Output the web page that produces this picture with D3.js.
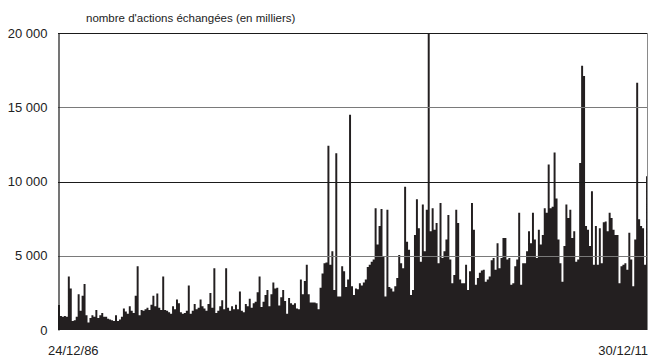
<!DOCTYPE html>
<html>
<head>
<meta charset="utf-8">
<script src="https://cdn.jsdelivr.net/npm/d3@7"></script>
<style>
  body { margin: 0; background: #fff; }
  svg { display: block; font-family: "Liberation Sans", Arial, sans-serif; }
</style>
</head>
<body>
<div id="chart"></div>
<script>
// monthly peak volume, thousands of shares, Jan 1987 -> Dec 2011
const volumes = [
  1690, 950, 900, 950, 900, 3600, 2800, 600, 650, 900,
  2400, 1300, 2300, 3100, 1000, 500, 800, 1000, 900, 1350,
  800, 1000, 1150, 900, 900, 750, 700, 650, 600, 1000,
  600, 700, 900, 1450, 1250, 1100, 1600, 1300, 1150, 2300,
  4300, 1000, 1350, 1300, 1400, 1500, 1350, 1700, 2300, 1600,
  2450, 1500, 1350, 3600, 1350, 1300, 1200, 1100, 1600, 1400,
  2050, 1800, 1200, 1100, 1150, 1300, 3000, 1100, 1300, 1750,
  1400, 1500, 2050, 1600, 1450, 1300, 1750, 2500, 1500, 4150,
  1150, 1300, 1600, 2000, 1400, 4150, 1500, 1300, 1600, 1400,
  1700, 1400, 2600, 1300, 1200, 1750, 1600, 2100, 1500, 1800,
  1900, 2550, 3600, 1550, 1900, 2350, 2700, 1600, 2400, 3200,
  2800, 2850, 1650, 2200, 2700, 1950, 1100, 2150, 1800, 1700,
  1800, 1450, 1400, 3400, 2400, 3300, 4400, 2400, 1850, 1850,
  1850, 1800, 1400, 2850, 3800, 4500, 4550, 12400, 4400, 5300,
  2700, 11900, 2250, 2250, 4300, 3950, 2900, 3400, 14500, 2950,
  2350, 2800, 2750, 3150, 3000, 3200, 3400, 4250, 4400, 4600,
  4750, 8200, 5750, 7000, 8150, 4950, 2250, 8100, 2900, 2800,
  2600, 2950, 3500, 5050, 4500, 4150, 9650, 5950, 5400, 2350,
  2700, 6400, 8800, 6850, 4600, 8450, 5300, 8100, 20000, 6650,
  8200, 6750, 7200, 4500, 8550, 4850, 5300, 6100, 7750, 4750,
  3150, 3700, 8100, 7200, 3400, 3150, 3150, 4400, 2700, 3950,
  8550, 6750, 3050, 3500, 3850, 4000, 4050, 3250, 3400, 3600,
  4700, 4850, 4050, 5850, 4150, 4850, 6200, 6200, 4750, 4850,
  3050, 3150, 4300, 4750, 7900, 3050, 4500, 4500, 5300, 6650,
  5850, 7900, 6100, 4850, 6750, 5750, 6400, 8200, 7900, 11150,
  8200, 8300, 11950, 8850, 6100, 4500, 3250, 5650, 8450, 7550,
  8100, 6200, 6650, 4600, 4750, 11250, 17800, 17100, 7000, 6750,
  5650, 9350, 4400, 7000, 4400, 6850, 4500, 7250, 7300, 6650,
  7900, 7550, 6750, 6400, 6400, 3150, 4300, 4400, 4500, 4050,
  6550, 4750, 2950, 6100, 16650, 7450, 7000, 6850, 4400, 10350
]
const yTicks = [0, 5000, 10000, 15000, 20000]
const dateLabels = ['24/12/86', '30/12/11']
const title = "nombre d'actions échangées (en milliers)"

const W = 651, H = 358
const margin = { top: 33, right: 3, bottom: 28, left: 58 }
const x0 = margin.left, x1 = W - margin.right
const y0 = H - margin.bottom, y1 = margin.top

const parse = d3.timeParse('%d/%m/%y')
const months = d3.timeMonth.range(new Date(1987, 0, 1), new Date(2012, 0, 1))

const svg = d3.select('#chart').append('svg')
  .attr('width', W)
  .attr('height', H)

const x = d3.scaleBand().domain(months).range([x0, x1]).padding(0)
const y = d3.scaleLinear().domain([0, 20000]).range([y0, y1])

// one stepped shape for all the months, so no seams between bars
const pts = volumes.map((v, i) => [x(months[i]), v])
pts.push([x1, volumes[volumes.length - 1]])

const area = d3.area()
  .x(d => d[0])
  .y0(y0)
  .y1(d => y(d[1]))
  .curve(d3.curveStepAfter)

svg.append('path')
  .datum(pts)
  .attr('d', area)
  .style('fill', '#231f20')

// grid on top of the bars
svg.append('g')
  .selectAll('line')
  .data(yTicks.filter(t => t > 0))
  .enter()
  .append('line')
  .attr('x1', x0)
  .attr('x2', x1 - 0.5)
  .attr('y1', d => Math.round(y(d)) + 0.5)
  .attr('y2', d => Math.round(y(d)) + 0.5)
  .style('stroke', d => (d % 10000 == 0 ? '#1a1a1a' : '#7a7a7a'))
  .style('stroke-width', 1)

// right border
svg.append('line')
  .attr('x1', x1 - 0.5).attr('x2', x1 - 0.5)
  .attr('y1', y1).attr('y2', y0)
  .style('stroke', '#8a8a8a')

// y axis
const yAxis = d3.axisLeft(y)
  .tickValues(yTicks)
  .tickSize(0)
  .tickPadding(11)
  .tickFormat(d => d3.format(',')(d).replace(',', ' '))

const ya = svg.append('g')
  .attr('transform', `translate(${x0 + 0.5},0)`)
  .call(yAxis)
ya.select('.domain').style('stroke', '#1a1a1a').style('stroke-width', 1.2)
ya.selectAll('text')
  .style('font-size', '13px')
  .style('fill', '#222')
  .attr('font-family', null)

// x labels at the first and last dates
const xt = d3.scaleTime().domain([parse(dateLabels[0]), parse(dateLabels[1])]).range([x0, x1])
svg.append('g')
  .selectAll('text')
  .data(dateLabels)
  .enter()
  .append('text')
  .attr('x', (d, i) => xt(parse(d)) + (i == 0 ? -10 : 0))
  .attr('y', 355)
  .attr('text-anchor', (d, i) => (i == 0 ? 'start' : 'end'))
  .style('font-size', '13px')
  .style('fill', '#222')
  .text(d => d)

svg.append('text')
  .attr('x', 86)
  .attr('y', 22)
  .style('font-size', '11.5px')
  .style('fill', '#222')
  .text(title)
</script>
</body>
</html>
